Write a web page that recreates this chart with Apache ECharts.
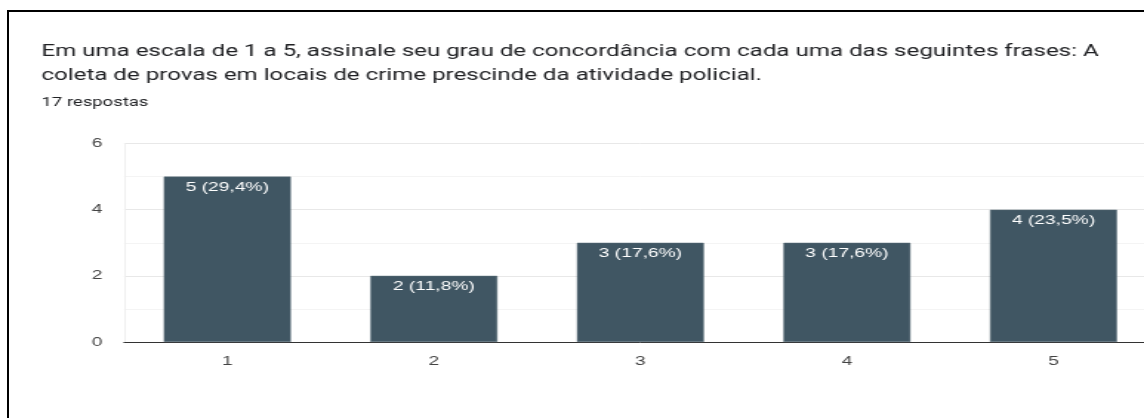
<!DOCTYPE html>
<html>
<head>
<meta charset="utf-8">
<script src="https://cdn.jsdelivr.net/npm/echarts@6/dist/echarts.min.js"></script>
<style>
html,body{margin:0;padding:0;width:1144px;height:418px;overflow:hidden;background:#fff;}
#frame{position:absolute;left:7px;top:10px;width:1200px;height:500px;border-left:2px solid #000;border-top:2px solid #000;}
#chart{position:absolute;left:0;top:0;width:790px;height:418px;transform:scaleX(1.48);transform-origin:0 0;}
</style>
</head>
<body>
<div id="frame"></div>
<div id="chart"></div>
<script>
const categories = ['1', '2', '3', '4', '5'];
const counts = [5, 2, 3, 3, 4];
const percents = ['29,4%', '11,8%', '17,6%', '17,6%', '23,5%'];
const titleText = 'Em uma escala de 1 a 5, assinale seu grau de concordância com cada uma das seguintes frases: A\ncoleta de provas em locais de crime prescinde da atividade policial.';
const subtitleText = '17 respostas';

const chart = echarts.init(document.getElementById('chart'));
chart.setOption({
  animation: false,
  title: {
    text: titleText,
    subtext: subtitleText,
    left: 23,
    top: 35,
    itemGap: 8,
    textStyle: {fontFamily: 'Roboto', fontSize: 16.3, fontWeight: 'normal', color: '#202124', lineHeight: 24},
    subtextStyle: {fontFamily: 'Roboto', fontSize: 12.5, color: '#202124'}
  },
  grid: {left: 83.8, right: 8.4, top: 143.5, bottom: 76, containLabel: false},
  xAxis: {
    type: 'category',
    data: categories,
    axisLine: {lineStyle: {color: '#333', width: 1}},
    axisTick: {show: false},
    axisLabel: {color: '#444', fontFamily: 'Liberation Sans', fontSize: 13, margin: 13},
    splitLine: {show: false}
  },
  yAxis: {
    type: 'value',
    min: 0, max: 6, interval: 2,
    axisLine: {show: true, lineStyle: {color: '#efefef'}},
    axisTick: {show: false},
    axisLabel: {color: '#444', fontFamily: 'Liberation Sans', fontSize: 13, margin: 14.5},
    splitLine: {lineStyle: {color: '#e8e8e8'}},
    minorTick: {show: false, splitNumber: 2},
    minorSplitLine: {show: true, lineStyle: {color: '#f4f4f4'}}
  },
  series: [{
    type: 'bar',
    data: counts,
    barWidth: '61.5%',
    itemStyle: {color: '#405663', borderColor: '#5a6e79', borderWidth: 0.5},
    label: {
      show: true,
      position: 'insideTop',
      distance: 4,
      color: '#fff',
      fontFamily: 'Liberation Sans',
      fontSize: 13,
      formatter: p => p.value + ' (' + percents[p.dataIndex] + ')'
    }
  }]
});
</script>
</body>
</html>
